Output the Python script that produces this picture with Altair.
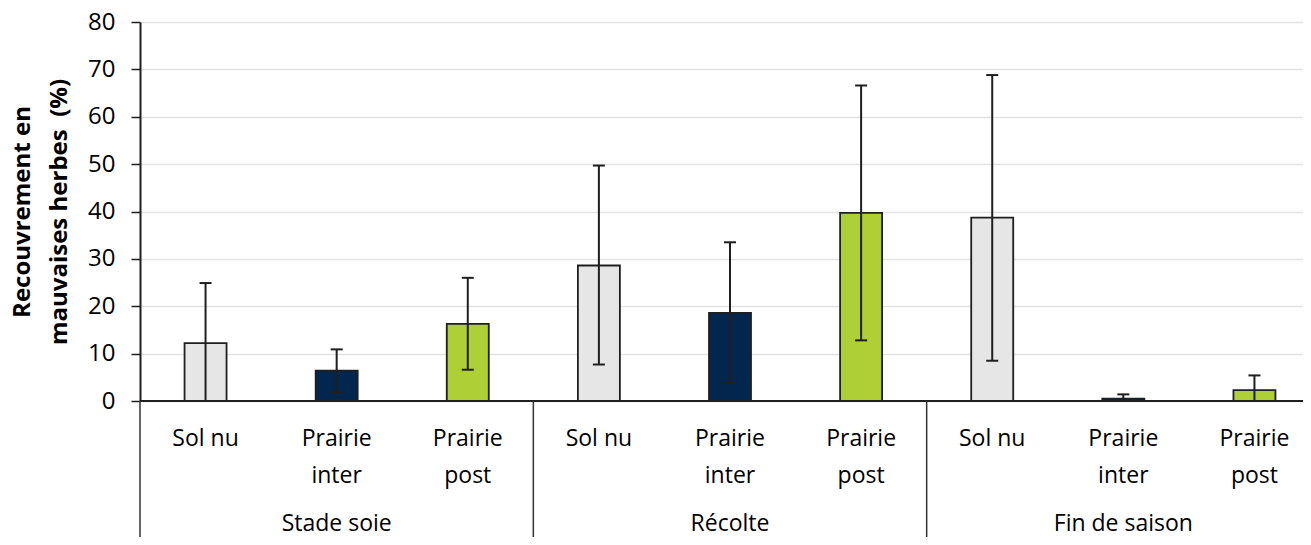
import altair as alt
import pandas as pd

periods = ["Stade soie", "Récolte", "Fin de saison"]
treatments = ["Sol nu", "Prairie inter", "Prairie post"]
treatment_labels = ["Sol nu", "Prairie\ninter", "Prairie\npost"]
means = [12.2, 6.4, 16.3, 28.6, 18.6, 39.7, 38.7, 0.5, 2.3]
err_hi = [24.9, 10.9, 26.0, 49.7, 33.5, 66.6, 68.8, 1.4, 5.4]
err_lo = [-0.5, 1.8, 6.6, 7.7, 3.9, 12.8, 8.5, -0.4, -0.8]
colors = ["#E6E6E6", "#03264F", "#AECF36"]
y_ticks = [0, 10, 20, 30, 40, 50, 60, 70, 80]
y_title = ["Recouvrement en", "mauvaises herbes\u00a0 (%)"]

W, H = 1180, 379
FONT = "Open Sans"
INK = "#1F1F1F"

rows = []
k = 0
for i, p in enumerate(periods):
    for j, t in enumerate(treatments):
        rows.append({"period": p, "treat": t, "label": treatment_labels[j],
                     "pos": 3 * i + j + 0.5, "mean": means[k],
                     "hi": err_hi[k], "lo": err_lo[k]})
        k += 1
df = pd.DataFrame(rows)
groups = pd.DataFrame({"period": periods, "pos": [1.5, 4.5, 7.5]})
dividers = pd.DataFrame({"b": [0, 3, 6]})

xs = alt.Scale(domain=[0, 9], nice=False, zero=False, padding=0)
ys = alt.Scale(domain=[0, 80], nice=False, padding=0)

base = alt.Chart(df)

bars = base.mark_bar(size=42, stroke=INK, strokeWidth=1.8).encode(
    x=alt.X("pos:Q", scale=xs, axis=None),
    y=alt.Y("mean:Q", scale=ys, axis=alt.Axis(
        values=y_ticks, grid=True, gridColor="#E3E3E3", gridWidth=1.5,
        domainColor=INK, domainWidth=2, tickColor=INK, tickWidth=1.5, tickSize=9,
        labelFont=FONT, labelFontSize=24, labelColor="#000000", labelPadding=16,
        title=y_title, titleFont=FONT, titleFontSize=24, titleFontWeight="bold",
        titleColor="#000000", titleLineHeight=37, titlePadding=16)),
    color=alt.Color("treat:N", scale=alt.Scale(domain=treatments, range=colors), legend=None),
)

baseline = alt.Chart(pd.DataFrame({"v": [0]})).mark_rule(color=INK, strokeWidth=2).encode(
    y=alt.Y("v:Q", scale=ys), x=alt.value(0), x2=alt.value(W))

err = base.mark_rule(color=INK, strokeWidth=2, clip=True).encode(
    x=alt.X("pos:Q", scale=xs), y=alt.Y("lo:Q", scale=ys), y2="hi:Q")
cap_hi = base.mark_rule(color=INK, strokeWidth=2, xOffset=-6, x2Offset=6).encode(
    x=alt.X("pos:Q", scale=xs), x2="pos:Q", y=alt.Y("hi:Q", scale=ys))
cap_lo = base.mark_rule(color=INK, strokeWidth=2, xOffset=-6, x2Offset=6, clip=True).encode(
    x=alt.X("pos:Q", scale=xs), x2="pos:Q", y=alt.Y("lo:Q", scale=ys))

cat_text = base.mark_text(lineBreak="\n", font=FONT, fontSize=23, lineHeight=37,
                          baseline="alphabetic", align="center", color="#000000").encode(
    x=alt.X("pos:Q", scale=xs), y=alt.value(H + 45), text="label:N")

grp_text = alt.Chart(groups).mark_text(font=FONT, fontSize=23, baseline="alphabetic",
                                        align="center", color="#000000").encode(
    x=alt.X("pos:Q", scale=xs), y=alt.value(H + 130), text="period:N")

div = alt.Chart(dividers).mark_rule(color="#333333", strokeWidth=1.5).encode(
    x=alt.X("b:Q", scale=xs), y=alt.value(H), y2=alt.value(H + 150))

chart = alt.layer(bars, err, cap_hi, cap_lo, baseline, div, cat_text, grp_text).properties(
    width=W, height=H,
    autosize=alt.AutoSizeParams(type="none"),
    padding={"left": 132, "top": 14, "right": -17, "bottom": 136},
).configure_view(stroke=None)

chart.save("out.html", embed_options={"renderer": "svg", "actions": False})
